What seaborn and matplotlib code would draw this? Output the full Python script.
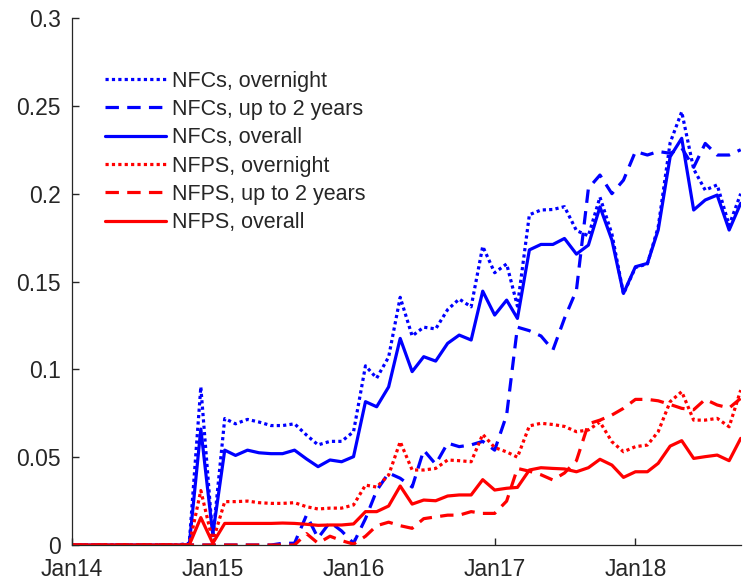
import numpy as np
import pandas as pd
import matplotlib
matplotlib.use("Agg")
import matplotlib.pyplot as plt
import matplotlib.dates as mdates
import seaborn as sns

# monthly observations, Jan 2014 - Oct 2018
months = pd.date_range("2014-01-01", periods=58, freq="MS")

nfc_overnight = [0] * 10 + [
    0.001, 0.090, 0.004, 0.072, 0.069, 0.0715, 0.070, 0.068, 0.068, 0.069,
    0.0626, 0.057, 0.059, 0.059, 0.0645, 0.102, 0.095, 0.107, 0.141, 0.119,
    0.124, 0.123, 0.134, 0.140, 0.1356, 0.170, 0.155, 0.160, 0.136, 0.188,
    0.1907, 0.191, 0.1926, 0.179, 0.176, 0.198, 0.177, 0.143, 0.158, 0.160,
    0.181, 0.229, 0.2466, 0.214, 0.202, 0.205, 0.182, 0.200]

nfc_2y = [0] * 18 + [
    0.001, 0.001, 0.017, 0.004, 0.013, 0.008, 0.001, 0.015, 0.031, 0.041,
    0.038, 0.033, 0.054, 0.046, 0.058, 0.056, 0.057, 0.059, 0.054, 0.074,
    0.124, 0.122, 0.119, 0.111, 0.129, 0.145, 0.203, 0.2106, 0.200, 0.2077,
    0.224, 0.222, 0.224, 0.223, 0.226, 0.215, 0.2286, 0.222, 0.222, 0.225]

nfc_overall = [0] * 11 + [
    0.066, 0.006, 0.054, 0.051, 0.054, 0.0525, 0.052, 0.052, 0.054, 0.049,
    0.0446, 0.0484, 0.0474, 0.0503, 0.0816, 0.0787, 0.090, 0.1176, 0.0987, 0.1072,
    0.1047, 0.1148, 0.1195, 0.1167, 0.1445, 0.1309, 0.1394, 0.129, 0.168, 0.1711,
    0.1711, 0.1745, 0.1656, 0.1707, 0.1925, 0.1736, 0.1432, 0.1584, 0.1603, 0.1793,
    0.221, 0.2315, 0.1907, 0.1964, 0.1992, 0.1793, 0.1945]

nfps_overnight = [0] * 11 + [
    0.031, 0.002, 0.0247, 0.0247, 0.025, 0.0241, 0.0237, 0.0237, 0.0241, 0.0218,
    0.0205, 0.021, 0.021, 0.0228, 0.0341, 0.033, 0.0398, 0.0588, 0.0427, 0.0427,
    0.0436, 0.0484, 0.048, 0.0474, 0.063, 0.0555, 0.053, 0.050, 0.0678, 0.0693,
    0.0686, 0.0675, 0.0645, 0.0655, 0.070, 0.0588, 0.0531, 0.056, 0.0569, 0.0645,
    0.0816, 0.0873, 0.0711, 0.0711, 0.0721, 0.0673, 0.0882]

nfps_2y = [0] * 20 + [
    0.0065, 0.001, 0.005, 0.0025, 0.0005, 0.005, 0.011, 0.013, 0.011, 0.0095,
    0.015, 0.016, 0.017, 0.017, 0.019, 0.018, 0.018, 0.025, 0.0436, 0.042,
    0.040, 0.037, 0.041, 0.048, 0.069, 0.0711, 0.074, 0.0778, 0.0829, 0.0829,
    0.0821, 0.080, 0.0778, 0.077, 0.0829, 0.0797, 0.078, 0.0835]

nfps_overall = [0] * 11 + [
    0.0156, 0.001, 0.0123, 0.0123, 0.0123, 0.0123, 0.0123, 0.0125, 0.0123, 0.0118,
    0.0112, 0.0114, 0.0114, 0.012, 0.019, 0.019, 0.0222, 0.0336, 0.0233, 0.0256,
    0.0252, 0.0279, 0.0285, 0.0285, 0.0372, 0.0313, 0.0323, 0.0328, 0.0427, 0.044,
    0.0436, 0.0433, 0.0417, 0.044, 0.0488, 0.0455, 0.0385, 0.0417, 0.0417, 0.0465,
    0.0563, 0.0594, 0.0493, 0.0503, 0.0512, 0.048, 0.0607]

labels = ["NFCs, overnight", "NFCs, up to 2 years", "NFCs, overall",
          "NFPS, overnight", "NFPS, up to 2 years", "NFPS, overall"]
series = [nfc_overnight, nfc_2y, nfc_overall, nfps_overnight, nfps_2y, nfps_overall]
colors = ["#0000ff"] * 3 + ["#ff0000"] * 3
dash_styles = [(0, (1, 1)), (0, (4.2, 2.6)), "-"] * 2

sns.set_style("ticks")
plt.rcParams["font.family"] = ["Liberation Sans", "DejaVu Sans"]
plt.rcParams["axes.edgecolor"] = "#262626"
plt.rcParams["xtick.color"] = "#262626"
plt.rcParams["ytick.color"] = "#262626"

fig = plt.figure(figsize=(7.51, 5.88), dpi=100)
ax = fig.add_axes([0.0959, 0.0731, 0.8904, 0.8963])

for vals, lab, col, ls in zip(series, labels, colors, dash_styles):
    sns.lineplot(x=months, y=vals, color=col, linestyle=ls, linewidth=2.3,
                 label=lab, ax=ax)

ax.set_xlim(months[0], months[-1])
ax.set_ylim(0, 0.3)
ax.set_yticks(np.arange(0, 0.301, 0.05))
ax.set_yticklabels(["0", "0.05", "0.1", "0.15", "0.2", "0.25", "0.3"])
ax.xaxis.set_major_locator(mdates.YearLocator(month=1))
ax.xaxis.set_major_formatter(mdates.DateFormatter("Jan%y"))
ax.tick_params(direction="in", length=5, width=1, labelsize=16.5)
ax.tick_params(axis="y", pad=8)
ax.tick_params(axis="x", pad=9.5)
ax.set_xlabel("")
ax.set_ylabel("")
sns.despine(ax=ax)
for sp in ["left", "bottom"]:
    ax.spines[sp].set_linewidth(0.9)

leg = ax.legend(loc="upper left", bbox_to_anchor=(0.049, 0.90), frameon=False,
                fontsize=15.5, handlelength=2.85, handletextpad=0.28,
                labelspacing=0.34, borderaxespad=0, borderpad=0)

fig.savefig("out.png", dpi=100)
